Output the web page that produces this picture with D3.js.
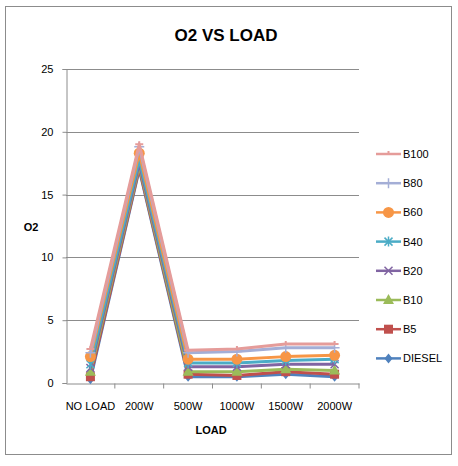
<!DOCTYPE html>
<html>
<head>
<meta charset="utf-8">
<script src="https://cdn.jsdelivr.net/npm/d3@7"></script>
<style>
  body { margin: 0; background: #fff; }
  text { font-family: "Liberation Sans Narrow", "Liberation Sans", Arial, sans-serif; fill: #000; }
</style>
</head>
<body>
<div id="chart-area"></div>
<script>
var loads = ["NO LOAD", "200W", "500W", "1000W", "1500W", "2000W"];
var seriesNames = ["B100", "B80", "B60", "B40", "B20", "B10", "B5", "DIESEL"];
var b100 = [2.7, 19.0, 2.6, 2.7, 3.1, 3.1];
var b80 = [2.4, 18.8, 2.4, 2.5, 2.8, 2.8];
var b60 = [2.1, 18.3, 1.9, 1.9, 2.1, 2.2];
var b40 = [1.5, 17.8, 1.6, 1.6, 1.8, 1.9];
var b20 = [1.2, 17.5, 1.3, 1.3, 1.5, 1.5];
var b10 = [0.9, 17.3, 0.9, 0.9, 1.1, 1.0];
var b5 = [0.5, 17.1, 0.7, 0.6, 0.9, 0.7];
var diesel = [0.3, 17.0, 0.5, 0.5, 0.7, 0.5];
var yTicks = [0, 5, 10, 15, 20, 25];

var seriesValues = [b100, b80, b60, b40, b20, b10, b5, diesel];
var colors = ["#e59c9a", "#a4aed6", "#f79646", "#4bacc6", "#8064a2", "#9bbb59", "#c0504d", "#4f81bd"];
var markers = ["dash", "plus", "circle", "star", "cross", "triangle", "square", "diamond"];

var width = 458, height = 466;
var margin = { left: 66, right: 99, top: 69, bottom: 83 };

var svg = d3.select("#chart-area").append("svg")
    .attr("width", width)
    .attr("height", height);

// outer frame
svg.append("rect")
    .attr("x", 5.5).attr("y", 6.5)
    .attr("width", 446).attr("height", 448)
    .attr("fill", "none").attr("stroke", "#8c8c8c");

var x = d3.scaleBand()
    .domain(loads)
    .range([margin.left, width - margin.right]);

var y = d3.scaleLinear()
    .domain([0, 25])
    .range([height - margin.bottom, margin.top]);

// gridlines
svg.append("g")
    .selectAll("line")
    .data(yTicks.filter((d) => d > 0))
    .enter().append("line")
        .attr("x1", margin.left).attr("x2", width - margin.right)
        .attr("y1", (d) => Math.round(y(d)) + 0.5)
        .attr("y2", (d) => Math.round(y(d)) + 0.5)
        .attr("stroke", "#8c8c8c");

// y axis
var yAxis = svg.append("g")
    .attr("transform", "translate(" + (margin.left + 0.5) + ",0)")
    .call(d3.axisLeft(y).tickValues(yTicks).tickSize(4).tickPadding(9));
yAxis.selectAll("path, line").attr("stroke", "#8c8c8c");
yAxis.selectAll("text").style("font-size", "11px").attr("font-family", null);

// x axis
var xAxis = svg.append("g")
    .attr("transform", "translate(0," + (Math.round(y(0)) + 0.5) + ")")
    .call(d3.axisBottom(x).tickSize(0).tickPadding(19));
xAxis.select(".domain").attr("stroke", "#8c8c8c");
xAxis.selectAll("text").style("font-size", "11px").attr("font-family", null);
xAxis.selectAll(".bnd")
    .data(loads)
    .enter().append("line")
        .attr("x1", (d) => x(d) + x.bandwidth())
        .attr("x2", (d) => x(d) + x.bandwidth())
        .attr("y1", 0).attr("y2", 5)
        .attr("stroke", "#8c8c8c");

// titles
svg.append("text")
    .attr("x", 226).attr("y", 41)
    .attr("text-anchor", "middle")
    .style("font-size", "17px").style("font-weight", "bold")
    .text("O2 VS LOAD");

svg.append("text")
    .attr("x", 31).attr("y", 231)
    .attr("text-anchor", "middle")
    .style("font-size", "11px").style("font-weight", "bold")
    .text("O2");

svg.append("text")
    .attr("x", 211).attr("y", 434)
    .attr("text-anchor", "middle")
    .style("font-size", "11px").style("font-weight", "bold")
    .text("LOAD");

function drawMarker(sel, type, color, cx, cy) {
    if (type === "circle") {
        sel.append("circle").attr("cx", cx).attr("cy", cy).attr("r", 5.5).attr("fill", color);
    } else if (type === "square") {
        sel.append("rect").attr("x", cx - 4.5).attr("y", cy - 4.5).attr("width", 9).attr("height", 9).attr("fill", color);
    } else if (type === "triangle") {
        sel.append("path").attr("d", "M" + cx + "," + (cy - 6) + "L" + (cx + 5.5) + "," + (cy + 4) + "L" + (cx - 5.5) + "," + (cy + 4) + "Z").attr("fill", color);
    } else if (type === "diamond") {
        sel.append("path").attr("d", "M" + cx + "," + (cy - 5) + "L" + (cx + 4) + "," + cy + "L" + cx + "," + (cy + 5) + "L" + (cx - 4) + "," + cy + "Z").attr("fill", color);
    } else if (type === "plus") {
        sel.append("path").attr("d", "M" + (cx - 5) + "," + cy + "H" + (cx + 5) + "M" + cx + "," + (cy - 5) + "V" + (cy + 5)).attr("stroke", color).attr("stroke-width", 1.5);
    } else if (type === "cross") {
        sel.append("path").attr("d", "M" + (cx - 4) + "," + (cy - 4) + "L" + (cx + 4) + "," + (cy + 4) + "M" + (cx + 4) + "," + (cy - 4) + "L" + (cx - 4) + "," + (cy + 4)).attr("stroke", color).attr("stroke-width", 1.5);
    } else if (type === "star") {
        sel.append("path").attr("d", "M" + (cx - 4) + "," + (cy - 4) + "L" + (cx + 4) + "," + (cy + 4) + "M" + (cx + 4) + "," + (cy - 4) + "L" + (cx - 4) + "," + (cy + 4) + "M" + cx + "," + (cy - 5) + "V" + (cy + 5)).attr("stroke", color).attr("stroke-width", 1.5);
    } else if (type === "dash") {
        sel.append("path").attr("d", "M" + (cx - 4) + "," + cy + "H" + (cx + 4) + "M" + cx + "," + (cy - 3) + "V" + cy).attr("stroke", color).attr("stroke-width", 2);
    }
}

var line = d3.line()
    .x((d, i) => x(loads[i]) + x.bandwidth() / 2)
    .y((d) => y(d));

// draw series from bottom to top so B100 sits on top
for (var s = seriesNames.length - 1; s >= 0; s--) {
    var g = svg.append("g");
    g.append("path")
        .datum(seriesValues[s])
        .attr("d", line)
        .attr("fill", "none")
        .attr("stroke", colors[s])
        .attr("stroke-width", 3)
        .attr("stroke-linejoin", "round");
    seriesValues[s].forEach((v, i) => {
        drawMarker(g, markers[s], colors[s], x(loads[i]) + x.bandwidth() / 2, y(v));
    });
}

// legend
var legend = svg.append("g");
seriesNames.forEach((name, i) => {
    var ly = 154 + i * 29.2;
    var item = legend.append("g");
    item.append("line")
        .attr("x1", 376).attr("x2", 401)
        .attr("y1", ly).attr("y2", ly)
        .attr("stroke", colors[i]).attr("stroke-width", 2.5);
    drawMarker(item, markers[i], colors[i], 388.5, ly);
    item.append("text")
        .attr("x", 403).attr("y", ly + 4)
        .style("font-size", "11px")
        .text(name);
});
</script>
</body>
</html>
